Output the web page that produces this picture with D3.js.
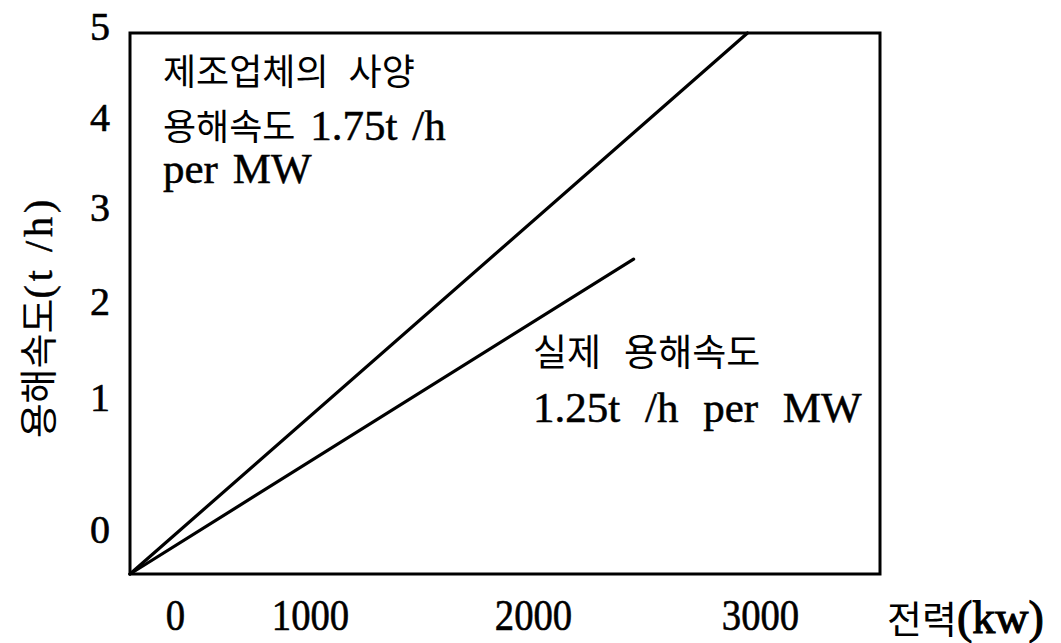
<!DOCTYPE html>
<html><head><meta charset="utf-8">
<script src="https://cdn.jsdelivr.net/npm/d3@7"></script>
<style>body{margin:0;background:#fff} svg{display:block}</style>
</head><body><svg id="c" width="1061" height="643"></svg>
<script>
// ---- data ----
const specKw = [0, 2857];        // manufacturer spec line, power (kW)
const specRate = [0, 5.0];       // melting rate (t/h)
const actualKw = [0, 2330];      // actual line, power (kW)
const actualRate = [0, 2.91];    // melting rate (t/h)
const xTicks = [0, 1000, 2000, 3000];
const xTickLabels = ["0", "1000", "2000", "3000"];
const yTicks = [0, 1, 2, 3, 4, 5];
const yTickLabels = ["0", "1", "2", "3", "4", "5"];
const specLabel = ["제조업체의 사양", "용해속도 1.75t /h", "per MW"];
const actualLabel = ["실제 용해속도", "1.25t /h per MW"];
const xTitle = "전력(kw)";
const yTitle = "용해속도(t /h)";

const series = [
  {kw: specKw, rate: specRate},
  {kw: actualKw, rate: actualRate}
];

const svg = d3.select("#c");
const x = d3.scaleLinear().domain([0, 3470]).range([130, 880]);
const y = d3.scaleLinear().domain([0, 5]).range([574, 33]);
// printed tick labels sit off the drawing grid in the source figure
const xLab = d3.scaleLinear().domain(xTicks).range([175, 310, 533, 760]);
const yLab = d3.scaleLinear().domain(yTicks).range([530, 398, 302, 208, 118, 27]);

// frame
svg.append("rect")
  .attr("x", x.range()[0]).attr("y", y.range()[1])
  .attr("width", x.range()[1] - x.range()[0])
  .attr("height", y.range()[0] - y.range()[1])
  .attr("fill", "none").attr("stroke", "#000").attr("stroke-width", 3);

// lines
const line = d3.line().x(d => x(d[0])).y(d => y(d[1]));
svg.selectAll("path.series").data(series).join("path")
  .attr("class", "series")
  .attr("d", s => line(s.kw.map((k, i) => [k, s.rate[i]])))
  .attr("fill", "none").attr("stroke", "#000").attr("stroke-width", 3.2)
  .attr("stroke-linecap", "round");

// axes
const gx = svg.append("g").attr("transform", `translate(0,${y.range()[0]})`)
  .call(d3.axisBottom(xLab).tickValues(xTicks).tickFormat((d, i) => xTickLabels[i]).tickSize(0).tickPadding(0));
gx.select(".domain").remove();
gx.selectAll("text").attr("font-family", "'Liberation Serif'").attr("font-size", 44)
  .attr("fill", "#000").attr("stroke", "#000").attr("stroke-width", 0.6)
  .attr("dy", null).attr("y", 56).attr("transform", "scale(0.88,1)");

const gy = svg.append("g").attr("transform", "translate(110,0)")
  .call(d3.axisLeft(yLab).tickValues(yTicks).tickFormat((d, i) => yTickLabels[i]).tickSize(0).tickPadding(0));
gy.select(".domain").remove();
gy.selectAll("text").attr("font-family", "'Liberation Serif'").attr("font-size", 40)
  .attr("fill", "#000").attr("stroke", "#000").attr("stroke-width", 0.6);

// mixed Korean/Latin text helper
const isKo = s => /[\uAC00-\uD7A3]/.test(s);
function mixed(t, str, latin, ko, opts) {
  opts = opts || {};
  const runs = str.match(/[\uAC00-\uD7A3]+|[^\uAC00-\uD7A3]+/g);
  runs.forEach((r, i) => {
    const k = isKo(r);
    const sp = t.append("tspan").text(r)
      .attr("font-family", k ? "'Noto Sans CJK KR'" : "'Liberation Serif'")
      .attr("font-size", k ? ko : latin);
    if (!k && opts.spacing) sp.attr("letter-spacing", opts.spacing);
    if (!k) sp.attr("stroke", "#000").attr("stroke-width", opts.heavy || 0.5);
    if (r.trim() === "" && i > 0 && i < runs.length - 1 && isKo(runs[i - 1]) && isKo(runs[i + 1]))
      sp.attr("font-size", 64);
  });
}

const specBase = [85, 140, 183];
specLabel.forEach((s, i) => {
  const t = svg.append("text").attr("x", 163).attr("y", specBase[i]).attr("fill", "#000")
    .attr("word-spacing", 4);
  mixed(t, s, 43, 36);
});
const actBase = [366, 422];
actualLabel.forEach((s, i) => {
  const t = svg.append("text").attr("x", 533).attr("y", actBase[i]).attr("fill", "#000")
    .attr("word-spacing", i === 0 ? 7 : 14);
  mixed(t, s, 43, 37);
});

// axis titles
const xt = svg.append("text").attr("x", 887).attr("y", 633).attr("fill", "#000");
mixed(xt, xTitle, 46, 38, {heavy: 1.1});
const yt = svg.append("text").attr("transform", "translate(52,317) rotate(-90)")
  .attr("text-anchor", "middle").attr("fill", "#000");
mixed(yt, yTitle, 40, 38, {spacing: 4});
</script></body></html>
